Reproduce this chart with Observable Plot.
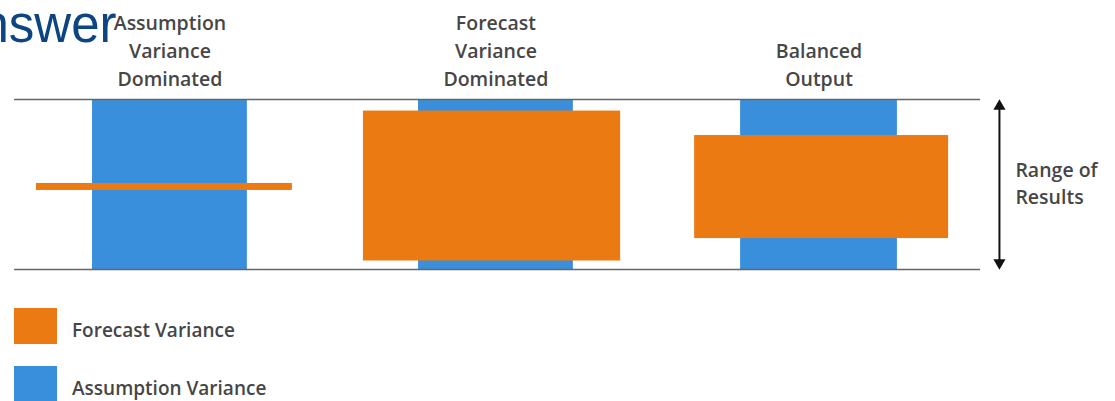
<!DOCTYPE html>
<html>
<head>
<meta charset="utf-8">
<script src="https://cdn.jsdelivr.net/npm/d3@7"></script>
<script src="https://cdn.jsdelivr.net/npm/@observablehq/plot@0.6"></script>
<style>
  html, body { margin: 0; padding: 0; background: #fff; width: 1115px; height: 401px; overflow: hidden; }
  #chart svg { display: block; overflow: visible; }
  .legend { position: relative; height: 101px; font-family: "Open Sans", sans-serif; font-weight: 600; font-size: 19px; color: #464646; }
  .item { position: absolute; left: 14px; display: flex; align-items: center; }
  .sw { width: 43px; height: 36px; margin-right: 15px; }
  .item span { position: relative; top: 4px; }
</style>
</head>
<body>
<div id="chart"></div>
<div class="legend" id="legend"></div>
<script>
// ---- data (x in group units, y as % of range of results) ----
const categories = ["Assumption\nVariance\nDominated", "Forecast\nVariance\nDominated", "Balanced\nOutput"];
const assumptionStart = [0.770, 1.770, 2.758];
const assumptionEnd   = [1.245, 2.245, 3.239];
const assumptionLow   = [0, 0, 0];
const assumptionHigh  = [100, 100, 100];
const forecastStart   = [0.598, 1.601, 2.617];
const forecastEnd     = [1.383, 2.390, 3.396];
const forecastLow     = [46.5, 5.0, 18.2];
const forecastHigh    = [50.6, 93.2, 78.8];
const rangeBounds     = [0, 100];
const rangeExtent     = [0.531, 3.494];
const arrowX          = 3.552;
const rangeLabel      = "Range of\nResults";
const seriesNames     = ["Forecast Variance", "Assumption Variance"];
const seriesColors    = ["#ec7a13", "#3a8fdd"];
const titleText       = "Answer";

const blue = categories.map((c, i) => ({c, x1: assumptionStart[i], x2: assumptionEnd[i], y1: assumptionLow[i], y2: assumptionHigh[i]}));
const orange = categories.map((c, i) => ({c, x1: forecastStart[i], x2: forecastEnd[i], y1: forecastLow[i], y2: forecastHigh[i]}));
const labels = categories.map((c, i) => ({c, x: (assumptionStart[i] + assumptionEnd[i]) / 2}));
const rules = rangeBounds.map(y => ({y, x1: rangeExtent[0], x2: rangeExtent[1]}));

const font = "Open Sans, sans-serif";
const chart = Plot.plot({
  width: 1115,
  height: 300,
  marginLeft: 0, marginRight: 0, marginTop: 99, marginBottom: 31,
  x: {domain: [0.4877, 3.908], axis: null},
  y: {domain: [0, 100], axis: null},
  style: {fontFamily: font, background: "white", overflow: "visible"},
  marks: [
    Plot.rect(blue, {x1: "x1", x2: "x2", y1: "y1", y2: "y2", fill: seriesColors[1]}),
    Plot.ruleY(rules, {y: "y", x1: "x1", x2: "x2", stroke: "#666", strokeWidth: 1.5}),
    Plot.rect(orange, {x1: "x1", x2: "x2", y1: "y1", y2: "y2", fill: seriesColors[0]}),
    Plot.text(labels, {x: "x", y: 108.2, text: "c", lineAnchor: "bottom", lineHeight: 1.42,
      fontSize: 19.5, fontWeight: 600, fill: "#464646", fontFamily: font}),
    Plot.ruleX([arrowX], {y1: 3, y2: 97, stroke: "#111", strokeWidth: 2}),
    Plot.dot([arrowX], {x: d => d, y: 96, symbol: "triangle", r: 4.5, fill: "#111", stroke: null}),
    Plot.dot([arrowX], {x: d => d, y: 4, symbol: "triangle", r: 4.5, fill: "#111", stroke: null, rotate: 180}),
    Plot.text([rangeLabel], {x: 3.601, y: 51.5, text: d => d, textAnchor: "start", lineAnchor: "middle",
      lineHeight: 1.4, fontSize: 19.5, fontWeight: 600, fill: "#464646", fontFamily: font}),
    Plot.text([titleText], {x: 0.8436, y: 134.1, text: d => d, textAnchor: "end", lineAnchor: "bottom",
      fontSize: 51, fill: "#0d4582", fontFamily: "Liberation Sans, Arial, sans-serif"})
  ]
});
document.getElementById("chart").appendChild(chart);

const legend = document.getElementById("legend");
[8, 66].forEach((top, i) => {
  const it = document.createElement("div");
  it.className = "item";
  it.style.top = top + "px";
  const sw = document.createElement("div");
  sw.className = "sw";
  sw.style.background = seriesColors[i];
  const t = document.createElement("span");
  t.textContent = seriesNames[i];
  it.appendChild(sw); it.appendChild(t);
  legend.appendChild(it);
});
</script>
</body>
</html>
